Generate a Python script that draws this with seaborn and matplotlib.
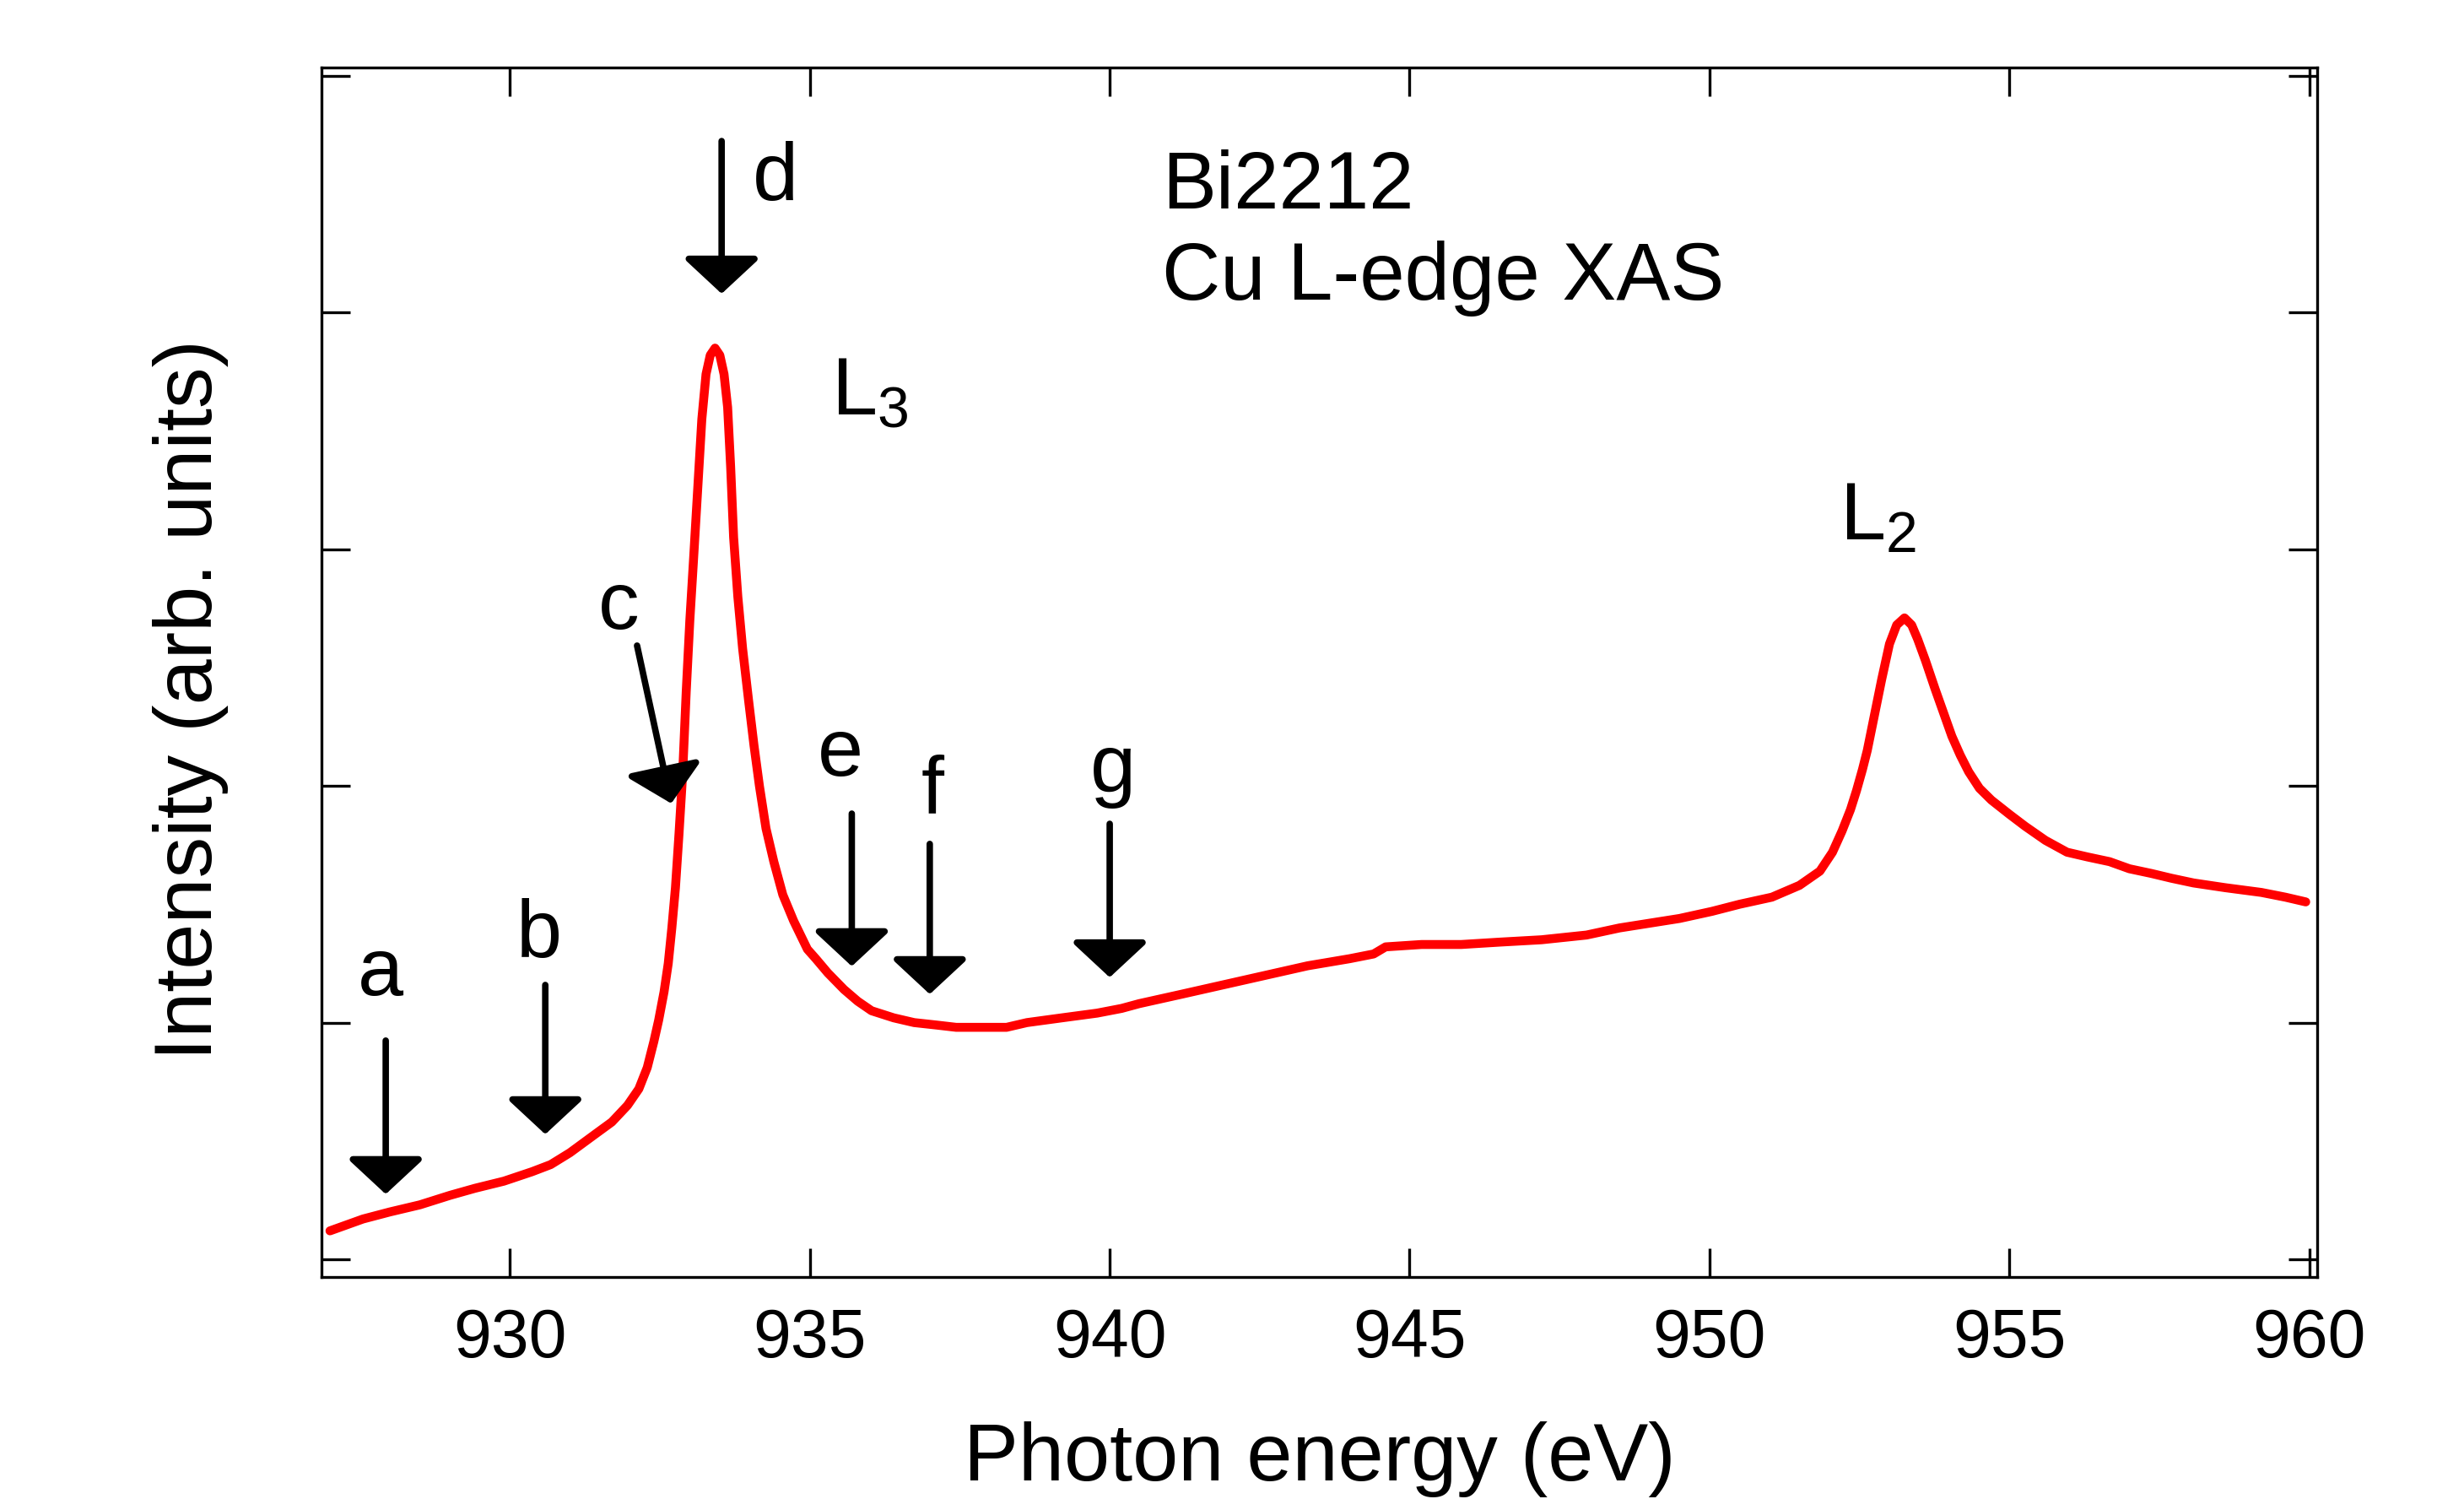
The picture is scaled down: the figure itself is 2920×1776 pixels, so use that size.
import matplotlib
matplotlib.use("Agg")
import matplotlib.pyplot as plt
import seaborn as sns
import pandas as pd

# Cu L-edge XAS of Bi2212
energy = [927.0, 927.55, 928.0, 928.5, 929.0, 929.42, 929.9, 930.37, 930.68, 931.0,
          931.43, 931.7, 931.96, 932.15, 932.29, 932.4, 932.48, 932.57, 932.64, 932.7,
          932.76, 932.82, 932.88, 932.94, 933.0, 933.06, 933.13, 933.2, 933.27, 933.34,
          933.42, 933.5, 933.57, 933.63, 933.68, 933.73, 933.8, 933.88, 933.98, 934.07,
          934.16, 934.27, 934.4, 934.55, 934.73, 934.96, 935.1, 935.3, 935.57, 935.8,
          936.03, 936.4, 936.74, 937.1, 937.44, 937.8, 938.28, 938.62, 939.2, 939.79,
          940.2, 940.49, 941.2, 941.9, 942.6, 943.3, 944.0, 944.4, 944.6, 945.2,
          945.86, 946.5, 947.2, 947.95, 948.5, 949.0, 949.5, 950.04, 950.5, 951.04,
          951.5, 951.84, 952.05, 952.21, 952.35, 952.45, 952.55, 952.63, 952.75, 952.87,
          953.0, 953.12, 953.25, 953.37, 953.47, 953.6, 953.76, 953.9, 954.04, 954.18,
          954.32, 954.5, 954.7, 955.0, 955.26, 955.6, 955.96, 956.3, 956.67, 957.0,
          957.37, 957.7, 958.07, 958.6, 959.2, 959.6, 959.94]
intensity = [0.12, 0.17, 0.20, 0.23, 0.27, 0.30, 0.33, 0.37, 0.40, 0.45,
             0.53, 0.58, 0.65, 0.72, 0.81, 0.92, 1.01, 1.13, 1.25, 1.40,
             1.57, 1.80, 2.05, 2.40, 2.70, 2.95, 3.25, 3.55, 3.74, 3.82,
             3.85, 3.82, 3.74, 3.60, 3.35, 3.05, 2.80, 2.58, 2.36, 2.17,
             2.00, 1.82, 1.68, 1.54, 1.43, 1.31, 1.27, 1.21, 1.14, 1.09,
             1.05, 1.02, 1.00, 0.99, 0.98, 0.98, 0.98, 1.00, 1.02, 1.04,
             1.06, 1.08, 1.12, 1.16, 1.20, 1.24, 1.27, 1.29, 1.32, 1.33,
             1.33, 1.34, 1.35, 1.37, 1.40, 1.42, 1.44, 1.47, 1.50, 1.53,
             1.58, 1.64, 1.72, 1.81, 1.90, 1.98, 2.07, 2.15, 2.30, 2.45,
             2.60, 2.68, 2.71, 2.68, 2.62, 2.53, 2.41, 2.31, 2.21, 2.13,
             2.06, 1.99, 1.94, 1.88, 1.83, 1.77, 1.72, 1.70, 1.68, 1.65,
             1.63, 1.61, 1.59, 1.57, 1.55, 1.53, 1.51]

# arrow markers a-g: label, tail (x, y), tip (x, y), label position
marks = ["a", "b", "c", "d", "e", "f", "g"]
tail_x = [927.93, 930.59, 932.12, 933.53, 935.70, 937.00, 940.00]
tail_y = [0.924, 1.159, 2.593, 4.725, 1.883, 1.755, 1.840]
tip_x = [927.93, 930.59, 932.69, 933.53, 935.70, 937.00, 940.00]
tip_y = [0.275, 0.528, 1.926, 4.080, 1.238, 1.120, 1.191]
label_x = [927.85, 930.49, 931.81, 934.42, 935.51, 937.05, 940.06]
label_y = [1.116, 1.277, 2.664, 4.476, 2.044, 1.887, 1.976]

xticks = [930, 935, 940, 945, 950, 955, 960]
yticks = [0, 1, 2, 3, 4, 5]

df = pd.DataFrame({"energy": energy, "intensity": intensity})

sns.set_style("ticks")
plt.rcParams["font.family"] = ["Liberation Sans", "DejaVu Sans"]
plt.rcParams["mathtext.default"] = "regular"
plt.rcParams["text.color"] = "black"
plt.rcParams["axes.labelcolor"] = "black"
plt.rcParams["xtick.color"] = "black"
plt.rcParams["ytick.color"] = "black"

fig = plt.figure(figsize=(29.2, 17.76), dpi=100)
ax = fig.add_axes([0.1305, 0.1481, 0.8099, 0.8069])

sns.lineplot(data=df, x="energy", y="intensity", ax=ax, color="#ff0000",
             lw=7.6, sort=False, legend=False)

for m, tx, ty, px, py, lx, ly in zip(marks, tail_x, tail_y, tip_x, tip_y, label_x, label_y):
    ax.annotate("", xy=(px, py), xytext=(tx, ty),
                arrowprops=dict(arrowstyle="-|>,head_length=26,head_width=28",
                                mutation_scale=1, color="black", lw=5.5,
                                shrinkA=0, shrinkB=0))
    ax.text(lx, ly, m, fontsize=70, ha="center", va="baseline")

ax.text(940.87, 4.44, "Bi2212", fontsize=69, va="baseline")
ax.text(940.87, 4.055, "Cu L-edge XAS", fontsize=69, va="baseline")
ax.text(935.36, 3.57, r"$\mathregular{L_3}$", fontsize=70, va="baseline")
ax.text(952.17, 3.04, r"$\mathregular{L_2}$", fontsize=70, va="baseline")

ax.set_xlim(926.86, 960.13)
ax.set_ylim(-0.075, 5.036)
ax.set_xticks(xticks)
ax.set_yticks(yticks)
ax.set_yticklabels([])
ax.tick_params(axis="both", which="both", direction="in", length=24.5, width=2.4,
               top=True, right=True, labelsize=58, pad=26, colors="black")
for sp in ax.spines.values():
    sp.set_linewidth(2.4)
    sp.set_color("black")

ax.set_xlabel("Photon energy (eV)", fontsize=70)
ax.set_ylabel("Intensity (arb. units)", fontsize=70)
ax.xaxis.set_label_coords(0.5, -0.119)
ax.yaxis.set_label_coords(-0.0465, 0.477)

fig.savefig("out.png", dpi=100, facecolor="white")
